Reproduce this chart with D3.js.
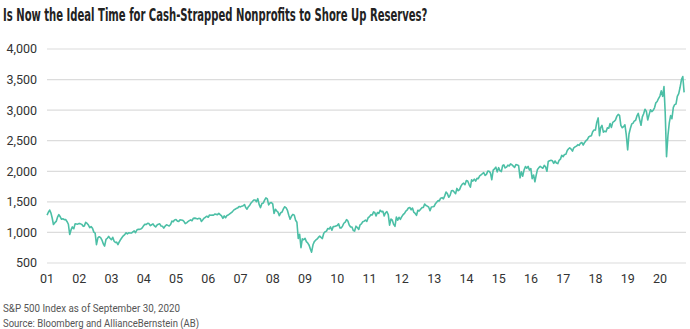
<!DOCTYPE html>
<html><head><meta charset="utf-8">
<script src="https://cdn.jsdelivr.net/npm/d3@7"></script>
<style>body{margin:0;background:#fff}svg{display:block}</style>
</head><body>
<script>
// S&P 500, semi-monthly readings (mid-month, month-end), Jan 2001 - Sep 2020
const startValue = 1283; // 2001-01-02
const values = [
 1326,1366, 1315,1240, 1130,1160, 1180,1249, 1290,1256, 1215,1224, 1210,1211, 1180,1134, 966,1041, 1090,1060, 1140,1139, 1135,1148,
 1140,1130, 1100,1107, 1165,1147, 1120,1077, 1095,1067, 1005,990, 800,912, 930,916, 875,815, 777,886, 905,936, 905,880,
 920,856, 835,841, 800,848, 885,917, 945,964, 995,975, 995,990, 990,1008, 1025,996, 1040,1051, 1050,1058, 1075,1112,
 1135,1131, 1150,1145, 1110,1126, 1140,1107, 1090,1121, 1135,1141, 1105,1102, 1070,1104, 1125,1115, 1105,1130, 1185,1174, 1205,1212,
 1185,1181, 1205,1204, 1200,1181, 1145,1157, 1175,1192, 1205,1191, 1230,1234, 1230,1220, 1230,1229, 1180,1207, 1235,1249, 1265,1248,
 1285,1280, 1285,1281, 1300,1295, 1290,1311, 1290,1270, 1230,1270, 1240,1277, 1285,1304, 1320,1336, 1365,1378, 1395,1401, 1425,1418,
 1430,1438, 1455,1407, 1380,1421, 1445,1482, 1505,1531, 1530,1503, 1553,1455, 1406,1474, 1480,1527, 1565,1549, 1450,1481, 1490,1468,
 1310,1379, 1350,1331, 1275,1323, 1335,1386, 1420,1400, 1360,1280, 1215,1267, 1295,1283, 1200,1166, 900,969, 752,896, 880,903,
 850,826, 790,735, 677,798, 850,873, 890,919, 940,919, 900,987, 1010,1021, 1065,1057, 1090,1036, 1095,1096, 1105,1115,
 1140,1074, 1075,1104, 1150,1169, 1210,1187, 1120,1089, 1090,1031, 1022,1102, 1080,1049, 1125,1141, 1175,1183, 1200,1181, 1240,1258,
 1290,1286, 1335,1327, 1270,1326, 1310,1364, 1340,1345, 1270,1321, 1340,1292, 1120,1219, 1200,1131, 1099,1253, 1200,1247, 1215,1258,
 1290,1312, 1350,1366, 1400,1408, 1370,1398, 1330,1310, 1280,1362, 1350,1379, 1405,1407, 1465,1441, 1430,1412, 1355,1416, 1420,1426,
 1470,1498, 1520,1515, 1560,1569, 1550,1598, 1660,1631, 1575,1606, 1680,1686, 1660,1633, 1720,1682, 1700,1757, 1790,1806, 1780,1848,
 1840,1783, 1740,1859, 1840,1872, 1840,1884, 1880,1924, 1940,1960, 1980,1931, 1950,2003, 2000,1972, 1862,2018, 2040,2068, 1990,2059,
 2010,1995, 2095,2105, 2055,2068, 2100,2086, 2120,2107, 2085,2063, 2110,2104, 2090,1893, 1990,1920, 2020,2079, 2050,2080, 2020,2044,
 1880,1940, 1829,1932, 2030,2060, 2080,2065, 2050,2097, 2070,2000, 2160,2174, 2180,2171, 2130,2168, 2135,2126, 2180,2199, 2260,2239,
 2275,2279, 2340,2364, 2385,2363, 2330,2384, 2400,2412, 2435,2423, 2460,2470, 2430,2472, 2500,2519, 2560,2575, 2580,2648, 2675,2674,
 2800,2873, 2581,2714, 2750,2641, 2656,2648, 2710,2705, 2780,2718, 2800,2816, 2840,2902, 2930,2914, 2750,2712, 2730,2760, 2600,2351,
 2610,2704, 2775,2784, 2820,2834, 2905,2946, 2850,2752, 2890,2942, 3015,2980, 2840,2926, 3005,2977, 2995,3038, 3120,3141, 3190,3231,
 3315,3226, 3386,2954, 2237,2585, 2790,2912, 2860,3044, 3090,3100, 3225,3271, 3370,3500, 3550,3290
];
const yTicks = [500,1000,1500,2000,2500,3000,3500,4000];
const yearLabels = ["01","02","03","04","05","06","07","08","09","10","11","12","13","14","15","16","17","18","19","20"];
const title = "Is Now the Ideal Time for Cash-Strapped Nonprofits to Shore Up Reserves?";
const notes = ["S&P 500 Index as of September 30, 2020","Source: Bloomberg and AllianceBernstein (AB)"];

// build dated series
const data = [{date:new Date(2001,0,2), v:startValue}];
values.forEach((v,i)=>{
  const m = Math.floor(i/2), yr = 2001 + Math.floor(m/12), mo = m%12;
  const date = (i%2===0) ? new Date(yr,mo,15) : new Date(yr,mo+1,0);
  data.push({date, v});
});

const W=690,H=329;
const svg = d3.select("body").append("svg").attr("width",W).attr("height",H);
const x = d3.scaleTime().domain([new Date(2001,0,1),new Date(2020,0,1)]).range([47,660]);
const y = d3.scaleLinear().domain([500,4000]).range([263,49]);
const gridEnd = 686;

// title: natural width measured, then compressed horizontally to the reference width
const tg = svg.append("g");
const tt = tg.append("text").attr("x",0).attr("y",0).text(title)
  .attr("font-family","'DejaVu Sans',sans-serif")
  .attr("font-stretch","condensed").attr("font-weight","bold").attr("font-size",18.5)
  .attr("fill","#222");
const natural = tt.node().getComputedTextLength();
tg.attr("transform",`translate(3,21) scale(${425/natural},1)`);

const gy = svg.append("g");
gy.selectAll("line").data(yTicks).join("line")
  .attr("x1",47).attr("x2",gridEnd).attr("y1",d=>y(d)).attr("y2",d=>y(d))
  .attr("stroke","#dcdcdc").attr("stroke-width",1.2);
gy.selectAll("text").data(yTicks).join("text")
  .attr("x",37).attr("y",d=>y(d)).attr("dy","0.35em").attr("text-anchor","end")
  .attr("font-family","Roboto,sans-serif").attr("font-size",12.5).attr("fill","#333")
  .text(d=>d3.format(",")(d));

svg.append("g").selectAll("text").data(yearLabels).join("text")
  .attr("x",(d,i)=>x(new Date(2001+i,0,1))).attr("y",283).attr("text-anchor","middle")
  .attr("font-family","Roboto,sans-serif").attr("font-size",12.5).attr("fill","#333")
  .text(d=>d);

svg.append("path").datum(data)
  .attr("d",d3.line().x(d=>x(d.date)).y(d=>y(d.v)))
  .attr("fill","none").attr("stroke","#4cbfa6").attr("stroke-width",1.6).attr("stroke-linejoin","round");

svg.selectAll("text.note").data(notes).join("text").attr("class","note")
  .attr("x",3).attr("y",(d,i)=>312+i*15).text(d=>d)
  .attr("font-family","Roboto,sans-serif").attr("font-size",11).attr("fill","#555")
  .attr("textLength",(d,i)=>i===0?177:196).attr("lengthAdjust","spacingAndGlyphs");
</script>
</body></html>
